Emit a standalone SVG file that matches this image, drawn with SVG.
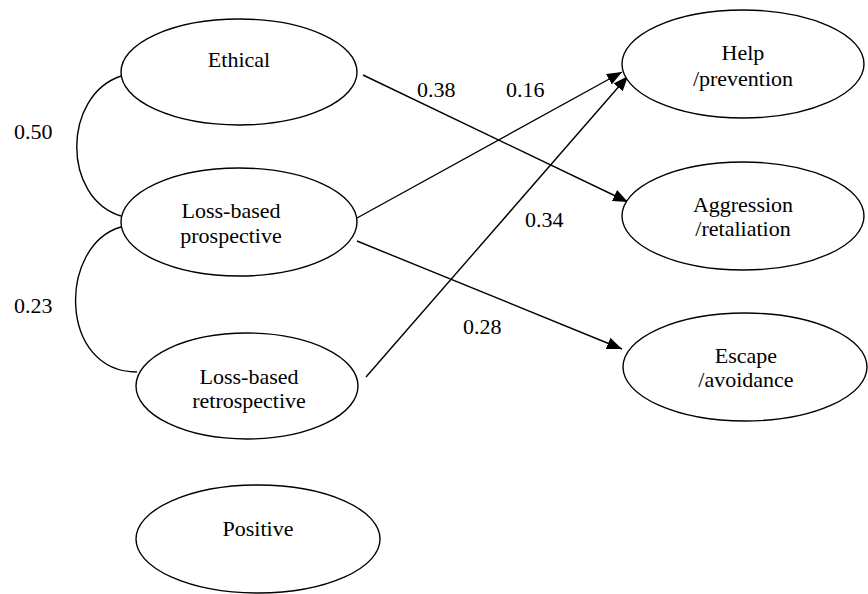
<svg xmlns="http://www.w3.org/2000/svg" width="868" height="594" viewBox="0 0 868 594">
<style>
.node ellipse{fill:#fff;stroke:#000;stroke-width:1.4}
text{font-family:"Liberation Serif","Times New Roman",serif;font-size:22px;fill:#000}
.c{text-anchor:middle}
#connectors path,#connectors line{fill:none;stroke:#000;stroke-width:1.4}
</style>
<defs>
<marker id="arr" markerUnits="userSpaceOnUse" markerWidth="16" markerHeight="12" refX="15" refY="6" orient="auto">
<path d="M0,0 L15,6 L0,12 Z" fill="#000"/>
</marker>
</defs>
<rect width="868" height="594" fill="#fff"/>
<g id="connectors">
<path d="M121 76 C62 96, 62 198, 121 216"/>
<path d="M121 227 C58 245, 58 372, 137 372"/>
<line x1="363" y1="75" x2="628" y2="202" marker-end="url(#arr)"/>
<line x1="357" y1="218" x2="622" y2="72" marker-end="url(#arr)"/>
<line x1="366" y1="377" x2="628" y2="76" marker-end="url(#arr)"/>
<line x1="357" y1="241" x2="622" y2="349" marker-end="url(#arr)"/>
</g>
<g id="labels">
<text x="14" y="139">0.50</text>
<text x="14" y="313">0.23</text>
<text x="417" y="97">0.38</text>
<text x="506" y="97">0.16</text>
<text x="525" y="227">0.34</text>
<text x="463" y="334">0.28</text>
</g>
<g id="ethical" class="node"><ellipse cx="239" cy="72" rx="118" ry="53"/><text class="c" x="239" y="67">Ethical</text></g>
<g id="prospective" class="node"><ellipse cx="239" cy="222" rx="118" ry="54"/><text class="c" x="231" y="218">Loss-based</text><text class="c" x="231" y="243">prospective</text></g>
<g id="retrospective" class="node"><ellipse cx="247" cy="386" rx="111" ry="53"/><text class="c" x="249" y="384">Loss-based</text><text class="c" x="249" y="408">retrospective</text></g>
<g id="positive" class="node"><ellipse cx="258" cy="539" rx="122" ry="54"/><text class="c" x="258" y="536">Positive</text></g>
<g id="help" class="node"><ellipse cx="743" cy="64" rx="121" ry="54"/><text class="c" x="743" y="60">Help</text><text class="c" x="743" y="86">/prevention</text></g>
<g id="aggression" class="node"><ellipse cx="743" cy="216" rx="121" ry="54"/><text class="c" x="743" y="212">Aggression</text><text class="c" x="743" y="236">/retaliation</text></g>
<g id="escape" class="node"><ellipse cx="745" cy="367" rx="122" ry="54"/><text class="c" x="746" y="363">Escape</text><text class="c" x="746" y="387">/avoidance</text></g>
</svg>
